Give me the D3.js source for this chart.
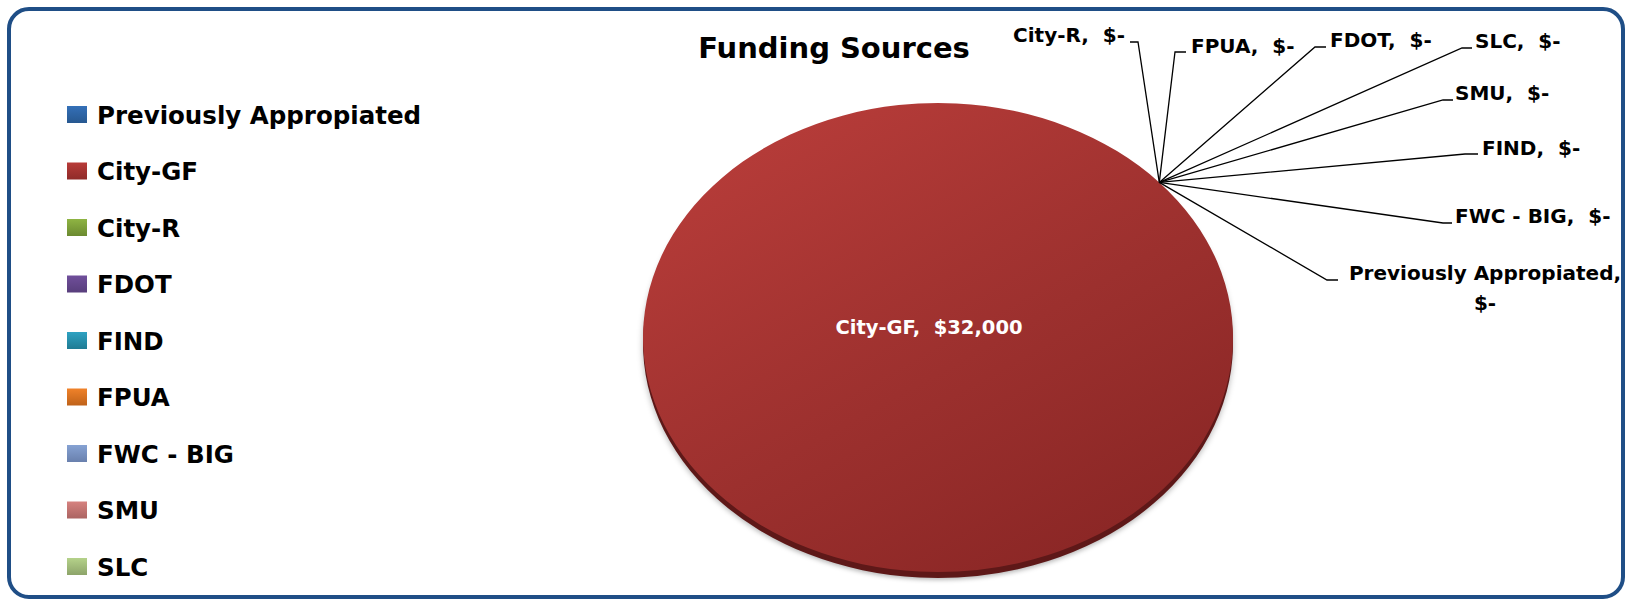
<!DOCTYPE html>
<html>
<head>
<meta charset="utf-8">
<script src="https://cdn.jsdelivr.net/npm/d3@7"></script>
<style>
  body { margin: 0; background: #fff; }
  text { font-family: "DejaVu Sans", sans-serif; font-weight: bold; }
</style>
</head>
<body>
<script>
const w = 1631;
const h = 599;

const categories = ['Previously Appropiated', 'City-GF', 'City-R', 'FDOT', 'FIND', 'FPUA', 'FWC - BIG', 'SMU', 'SLC'];
const values = [0, 32000, 0, 0, 0, 0, 0, 0, 0];
const colorsTop = ['#3470b8', '#b83b38', '#8fb443', '#704f9b', '#2ea2c2', '#f0822a', '#86a2d3', '#d6827f', '#b5d28a'];
const colorsBottom = ['#275890', '#8f2b29', '#6b8a30', '#583e7c', '#1f7b93', '#bf6219', '#6980ad', '#ab6462', '#8da46a'];
const title = 'Funding Sources';

// where excel put the labels of the empty slices
const labelPos = {
  'City-R': { x: 1125, y: 42, anchor: 'end', elbow: [1138, 42], end: [1130, 42] },
  'FPUA': { x: 1191, y: 53, anchor: 'start', elbow: [1175, 52], end: [1186, 52] },
  'FDOT': { x: 1330, y: 47, anchor: 'start', elbow: [1315, 47], end: [1326, 47] },
  'SLC': { x: 1475, y: 48, anchor: 'start', elbow: [1462, 48], end: [1472, 48] },
  'SMU': { x: 1455, y: 100, anchor: 'start', elbow: [1443, 100], end: [1453, 100] },
  'FIND': { x: 1482, y: 155, anchor: 'start', elbow: [1465, 154], end: [1478, 154] },
  'FWC - BIG': { x: 1455, y: 223, anchor: 'start', elbow: [1443, 223], end: [1452, 223] },
  'Previously Appropiated': { x: 1485, y: 280, anchor: 'middle', wrap: true, elbow: [1327, 280], end: [1338, 280] }
};

const cx = 938, cy = 337.5, rx = 295, ry = 234.5;
const startAngle = 48.6 * Math.PI / 180;

const money = (v) => v === 0 ? '$-' : '$' + d3.format(',')(v);

const svg = d3.select('body').append('svg')
  .attr('width', w)
  .attr('height', h);

const defs = svg.append('defs');
categories.forEach((c, i) => {
  const g = defs.append('linearGradient')
    .attr('id', 'lg' + i)
    .attr('x1', 0).attr('y1', 0).attr('x2', 0).attr('y2', 1);
  g.append('stop').attr('offset', '0%').attr('stop-color', colorsTop[i]);
  g.append('stop').attr('offset', '100%').attr('stop-color', colorsBottom[i]);
});
const pg = defs.append('linearGradient')
  .attr('id', 'pieGrad')
  .attr('x1', 0.15).attr('y1', 0).attr('x2', 0.85).attr('y2', 1);
pg.append('stop').attr('offset', '0%').attr('stop-color', '#b93d3a');
pg.append('stop').attr('offset', '55%').attr('stop-color', '#9c302e');
pg.append('stop').attr('offset', '100%').attr('stop-color', '#882524');
defs.append('filter').attr('id', 'blur')
  .attr('x', -0.1).attr('y', -0.1).attr('width', 1.2).attr('height', 1.2)
  .append('feGaussianBlur').attr('stdDeviation', 3);

// frame
svg.append('rect')
  .attr('x', 9).attr('y', 9)
  .attr('width', 1614).attr('height', 588)
  .attr('rx', 20).attr('ry', 20)
  .attr('fill', '#fff')
  .attr('stroke', '#1f4e86')
  .attr('stroke-width', 4);

svg.append('text')
  .attr('x', 834).attr('y', 58)
  .attr('text-anchor', 'middle')
  .style('font-size', '29px')
  .attr('fill', '#000')
  .text(title);

// pie
const pie = d3.pie().sort(null)
  .startAngle(startAngle)
  .endAngle(startAngle + 2 * Math.PI);
const arcs = pie(values);
const arc = d3.arc().innerRadius(0).outerRadius(rx);
const sy = ry / rx;
const filled = arcs.filter(d => d.value > 0);

const pieG = svg.append('g');
const shadowG = pieG.append('g')
  .attr('transform', `translate(${cx},${cy + 8}) scale(1,${sy})`)
  .attr('filter', 'url(#blur)');
shadowG.selectAll('path').data(filled).join('path')
  .attr('d', arc).attr('fill', 'rgba(0,0,0,0.28)');

const rimG = pieG.append('g')
  .attr('transform', `translate(${cx},${cy + 6}) scale(1,${sy})`);
rimG.selectAll('path').data(filled).join('path')
  .attr('d', arc).attr('fill', '#5e1818');

const faceG = pieG.append('g')
  .attr('transform', `translate(${cx},${cy}) scale(1,${sy})`);
faceG.selectAll('path').data(filled).join('path')
  .attr('d', arc)
  .attr('fill', 'url(#pieGrad)');

// label of the big slice
filled.forEach(d => {
  svg.append('text')
    .attr('x', cx - 9).attr('y', cy - 3.5)
    .attr('text-anchor', 'middle')
    .style('font-size', '19.5px')
    .style('white-space', 'pre')
    .attr('fill', '#fff')
    .text(categories[d.index] + ',  ' + money(d.value));
});

// labels of empty slices with leader lines
const line = d3.line();
arcs.filter(d => d.value === 0).forEach(d => {
  const name = categories[d.index];
  const p = labelPos[name];
  const a = (d.startAngle + d.endAngle) / 2;
  const px = cx + rx * Math.sin(a);
  const py = cy - ry * Math.cos(a);
  svg.append('path')
    .attr('d', line([[px, py], p.elbow, p.end]))
    .attr('fill', 'none')
    .attr('stroke', '#000')
    .attr('stroke-width', 1.3);
  const t = svg.append('text')
    .attr('text-anchor', p.anchor)
    .style('font-size', '20px')
    .style('white-space', 'pre')
    .attr('fill', '#000');
  if (p.wrap) {
    t.append('tspan').attr('x', p.x).attr('y', p.y).text(name + ',');
    t.append('tspan').attr('x', p.x).attr('y', p.y + 30).text(money(d.value));
  } else {
    t.attr('x', p.x).attr('y', p.y).text(name + ',  ' + money(d.value));
  }
});

// legend
const ly = d3.scaleLinear().domain([0, categories.length - 1]).range([114.5, 566.5]);
const leg = svg.append('g');
categories.forEach((c, i) => {
  leg.append('rect')
    .attr('x', 67).attr('y', ly(i) - 8.5)
    .attr('width', 20).attr('height', 17)
    .attr('fill', `url(#lg${i})`);
  leg.append('text')
    .attr('x', 97).attr('y', ly(i) + 9)
    .style('font-size', '24.5px')
    .attr('fill', '#000')
    .text(c);
});
</script>
</body>
</html>
